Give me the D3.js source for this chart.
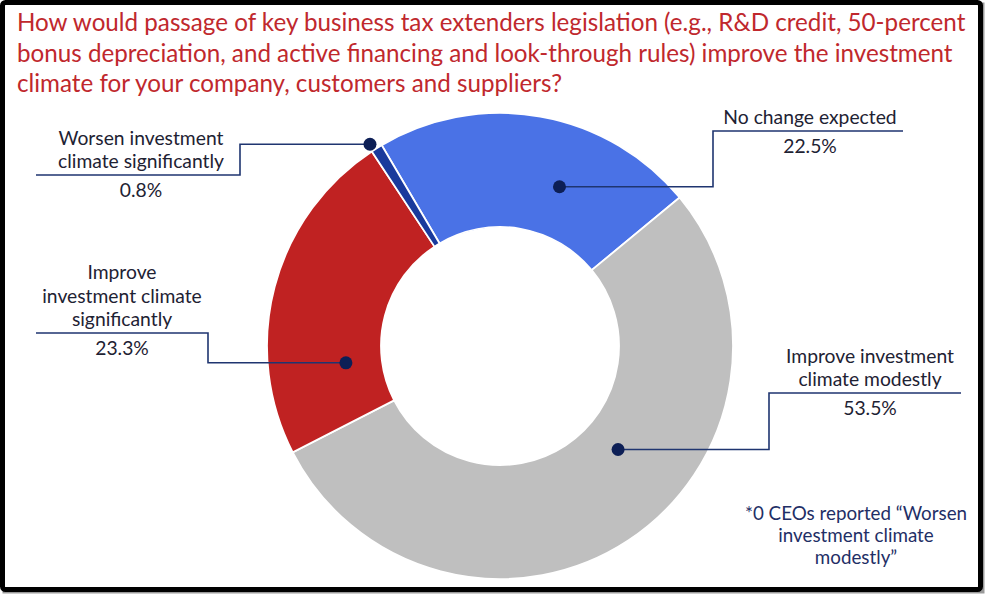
<!DOCTYPE html>
<html lang="en">
<head>
    <meta charset="UTF-8">
    <title>Business tax extenders - investment climate</title>
    <script src="https://cdn.jsdelivr.net/npm/d3@7"></script>
    <style>
        html, body {
            margin: 0;
            background: #fff;
        }
        text {
            font-family: Lato, "Open Sans", sans-serif;
        }
    </style>
</head>
<body>
    <div id="vis"></div>
    <script>
        // ---- data ----
        var categories = ["No change expected", "Improve investment climate modestly",
                          "Improve investment climate significantly", "Worsen investment climate significantly"];
        var values = [22.5, 53.5, 23.3, 0.8];
        var valueLabels = ["22.5%", "53.5%", "23.3%", "0.8%"];
        var labelLines = [
            ["No change expected"],
            ["Improve investment", "climate modestly"],
            ["Improve", "investment climate", "significantly"],
            ["Worsen investment", "climate significantly"]
        ];
        var colours = ["#4a72e6", "#bfbfbf", "#c02222", "#1a3a9c"];
        var titleLines = [
            "How would passage of key business tax extenders legislation (e.g., R&D credit, 50-percent",
            "bonus depreciation, and active financing and look-through rules) improve the investment",
            "climate for your company, customers and suppliers?"
        ];
        var footnoteLines = ["*0 CEOs reported \u201cWorsen", "investment climate", "modestly\u201d"];

        // ---- layout ----
        var width = 985, height = 595;
        var cx = 500, cy = 346;
        var outerR = 233, innerR = 119;
        var startDeg = -30.5;

        // leader layout per slice: t = fraction along the slice, r = radius of the dot,
        // elbowX = where the line turns, lineY = underline, x0/x1 = underline ends, tx = label centre
        var leaders = [
            {t: 0.63, r: 170, elbowX: 713, lineY: 131, x0: 713, x1: 903, tx: 810},
            {t: 0.42, r: 157, elbowX: 769, lineY: 393, x0: 769, x1: 961, tx: 870},
            {t: 0.25, r: 155, elbowX: 208, lineY: 333, x0: 36, x1: 208, tx: 122},
            {t: 0.2,  r: 240, elbowX: 240, lineY: 175, x0: 36, x1: 240, tx: 141}
        ];

        var svg = d3.select('#vis')
            .append('svg')
                .attr('width', width)
                .attr('height', height);

        // frame
        svg.append('rect')
            .attr('x', 4).attr('y', 4)
            .attr('width', 979).attr('height', 588)
            .attr('fill', 'none')
            .attr('stroke', '#9a9a9a')
            .attr('stroke-width', 3);
        svg.append('rect')
            .attr('x', 2.5).attr('y', 2.5)
            .attr('width', 978).attr('height', 587)
            .attr('rx', 3)
            .attr('fill', '#fff')
            .attr('stroke', '#000')
            .attr('stroke-width', 5);

        // title
        svg.append('g')
            .selectAll('text')
            .data(titleLines)
            .enter()
            .append('text')
                .attr('x', 17)
                .attr('y', function(d, i){ return 23 + i * 30.5; })
                .attr('dy', '0.35em')
                .attr('fill', '#c0282d')
                .attr('font-size', '24.2px')
                .text(function(d){ return d; });

        // donut
        var pie = d3.pie()
            .sort(null)
            .startAngle(startDeg * Math.PI / 180)
            .endAngle(startDeg * Math.PI / 180 + 2 * Math.PI);

        var arc = d3.arc()
            .innerRadius(innerR)
            .outerRadius(outerR);

        var arcs = pie(values);

        var chart = svg.append('g')
            .attr('transform', 'translate(' + cx + ',' + cy + ')');

        chart.selectAll('.slice')
            .data(arcs)
            .enter()
            .append('path')
                .attr('class', 'slice')
                .attr('d', arc)
                .attr('fill', function(d, i){ return colours[i]; })
                .attr('stroke', '#fff')
                .attr('stroke-width', 1.8);

        // leader lines, dots and labels
        var navy = '#1f3570';
        arcs.forEach(function(a, i) {
            var L = leaders[i];
            var ang = a.startAngle + L.t * (a.endAngle - a.startAngle);
            var px = cx + L.r * Math.sin(ang);
            var py = cy - L.r * Math.cos(ang);

            var path = d3.path();
            path.moveTo(px, py);
            path.lineTo(L.elbowX, py);
            path.lineTo(L.elbowX, L.lineY);
            if (L.x0 === L.elbowX) {
                path.lineTo(L.x1, L.lineY);
            } else {
                path.lineTo(L.x0, L.lineY);
            }
            svg.append('path')
                .attr('d', path.toString())
                .attr('fill', 'none')
                .attr('stroke', navy)
                .attr('stroke-width', 1.6);

            svg.append('circle')
                .attr('cx', px)
                .attr('cy', py)
                .attr('r', 6.5)
                .attr('fill', '#0d1f56');

            var lines = labelLines[i];
            svg.append('g')
                .selectAll('text')
                .data(lines)
                .enter()
                .append('text')
                    .attr('x', L.tx)
                    .attr('y', function(d, j){ return L.lineY - 13.5 - (lines.length - 1 - j) * 23.5; })
                    .attr('dy', '0.35em')
                    .attr('text-anchor', 'middle')
                    .attr('font-size', '19.3px')
                    .attr('fill', '#1e2233')
                    .text(function(d){ return d; });

            svg.append('text')
                .attr('x', L.tx)
                .attr('y', L.lineY + 15)
                .attr('dy', '0.35em')
                .attr('text-anchor', 'middle')
                .attr('font-size', '19.3px')
                .attr('fill', '#1e2233')
                .text(valueLabels[i]);
        });

        // footnote
        svg.append('g')
            .selectAll('text')
            .data(footnoteLines)
            .enter()
            .append('text')
                .attr('x', 856)
                .attr('y', function(d, i){ return 513 + i * 22; })
                .attr('dy', '0.35em')
                .attr('text-anchor', 'middle')
                .attr('font-size', '18.8px')
                .attr('fill', '#1f2f66')
                .text(function(d){ return d; });
    </script>
</body>
</html>
